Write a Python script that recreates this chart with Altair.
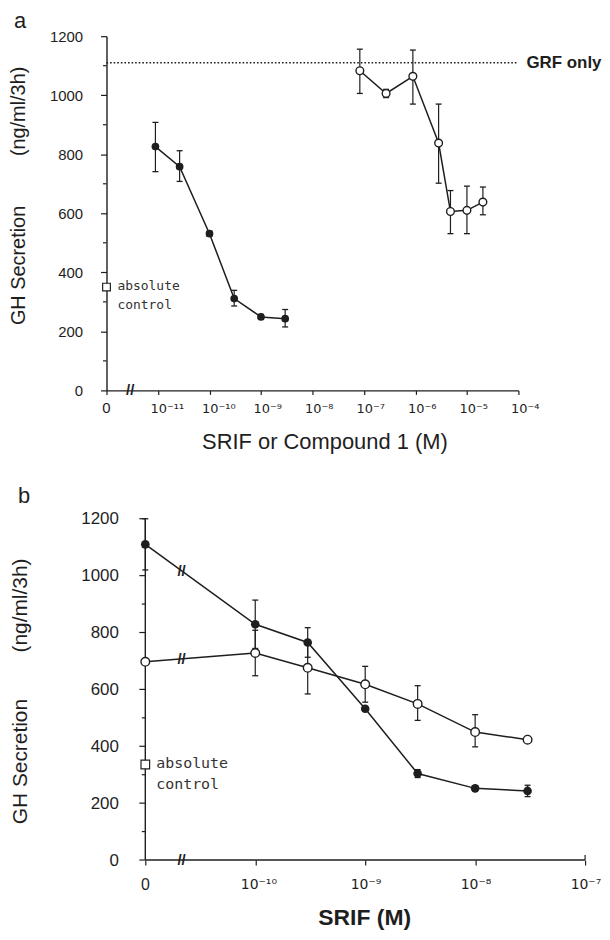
import altair as alt
import pandas as pd
import numpy as np

FONT = "Liberation Sans"
SUPFONT = "DejaVu Sans"
MONO = "DejaVu Sans Mono"
INK = "#1e1e1e"
NB = "\u00a0"

# ---------------- data: panel a ----------------
A_X_TICKS = [-12, -11, -10, -9, -8, -7, -6, -5, -4]
A_X_LABELS = ["0", "10⁻¹¹", "10⁻¹⁰", "10⁻⁹", "10⁻⁸", "10⁻⁷", "10⁻⁶", "10⁻⁵", "10⁻⁴"]
Y_TICKS = [0, 200, 400, 600, 800, 1000, 1200]
Y_MINOR = [100, 300, 500, 700, 900, 1100]

A_SRIF_X = [-11.05, -10.58, -10.0, -9.52, -9.0, -8.53]
A_SRIF_Y = [826, 758, 531, 311, 249, 243]
A_SRIF_LO = [741, 708, 523, 286, 241, 215]
A_SRIF_HI = [908, 812, 539, 339, 257, 274]

A_CMP_X = [-7.08, -6.57, -6.05, -5.55, -5.32, -5.0, -4.69]
A_CMP_Y = [1083, 1006, 1064, 838, 606, 610, 638]
A_CMP_LO = [1006, 992, 970, 702, 531, 531, 595]
A_CMP_HI = [1156, 1020, 1153, 970, 677, 692, 689]

A_GRF_ONLY = 1110
A_CONTROL = 350
A_BREAK_X = -11.54

# ---------------- data: panel b ----------------
B_X_TICKS = [-11, -10, -9, -8, -7]
B_X_LABELS = ["0", "10⁻¹⁰", "10⁻⁹", "10⁻⁸", "10⁻⁷"]
B_X = [-11, -10, -9.523, -9, -8.523, -8, -7.523]
B_CLOSED_Y = [1110, 829, 765, 532, 304, 252, 243]
B_CLOSED_LO = [1020, 744, 713, 524, 290, 244, 223]
B_CLOSED_HI = [1200, 914, 817, 540, 318, 260, 263]
B_OPEN_Y = [697, 728, 676, 618, 549, 450, 423]
B_OPEN_LO = [697, 648, 584, 555, 491, 398, 415]
B_OPEN_HI = [697, 808, 768, 681, 613, 511, 431]
B_CONTROL = 336
B_BREAK_X = -10.67

# layout (pixels)
A_W, A_H = 414, 356
B_DEC = 110.5            # pixels per decade in panel b
B_SHIFT = 39             # panel b's axis sits this far right of panel a's
B_W = int(round((B_X_TICKS[-1] - B_X_TICKS[0]) * B_DEC)) + B_SHIFT
B_H = 343
B_XMIN = B_X_TICKS[0] - B_SHIFT / B_DEC


def label_expr(ticks, labels):
    # the "0" label is drawn separately (centred on its tick)
    e = "''"
    for t, l in zip(ticks, labels):
        if l == "0":
            continue
        e = f"datum.value === {t} ? '{l}' : ({e})"
    return e


def err_frames(xs, lo, hi):
    bars = pd.DataFrame({"x": xs, "y": lo, "y2": hi})
    caps = pd.DataFrame({"x": list(xs) * 2, "y": list(lo) + list(hi)})
    return bars, caps


def panel(xdom, axis_x0, ydom, width, height, xaxis, yaxis, closed, opened, control,
          break_x, letter, letter_pos, msize, mono_size, mono_lh, zero_font, zero_dy,
          extra=None, line_breaks=None, draw_domain=False, x_end=None):
    X = alt.X("x:Q", scale=alt.Scale(domain=xdom, nice=False, zero=False), axis=xaxis)
    Y = alt.Y("y:Q", scale=alt.Scale(domain=ydom, nice=False, zero=False), axis=yaxis)
    layers = []

    if draw_domain:
        dom = pd.DataFrame({"x": [axis_x0], "x2": [x_end], "y": [ydom[0]], "y2": [ydom[1]]})
        layers.append(alt.Chart(dom).mark_rule(color=INK, strokeWidth=1.4).encode(x=X, x2="x2:Q", y=Y))
        layers.append(alt.Chart(dom).mark_rule(color=INK, strokeWidth=1.4).encode(x=X, y=Y, y2="y2:Q"))
        layers.append(alt.Chart(dom).mark_rule(color=INK, strokeWidth=1.2, yOffset=-5, y2Offset=0)
                      .encode(x=alt.X("x2:Q", scale=alt.Scale(domain=xdom, nice=False, zero=False), axis=xaxis),
                              y=Y, y2="y:Q"))
        major = pd.DataFrame({"x": [axis_x0] * len(Y_TICKS), "y": Y_TICKS})
        layers.append(alt.Chart(major).mark_rule(color=INK, strokeWidth=1.2, xOffset=-6, x2Offset=0)
                      .encode(x=X, x2="x:Q", y=Y))

    minor = pd.DataFrame({"x": [axis_x0] * len(Y_MINOR), "y": Y_MINOR})
    layers.append(alt.Chart(minor).mark_rule(color=INK, strokeWidth=1.2, xOffset=-3.5, x2Offset=0)
                  .encode(x=X, x2="x:Q", y=Y))

    if extra is not None:
        layers.extend(extra(X, Y))

    for (xs, ys, lo, hi, filled) in (closed, opened):
        bars, caps = err_frames(xs, lo, hi)
        layers.append(alt.Chart(bars).mark_rule(color=INK, strokeWidth=1.2).encode(x=X, y=Y, y2="y2:Q"))
        layers.append(alt.Chart(caps).mark_rule(color=INK, strokeWidth=1.3, xOffset=-3, x2Offset=3)
                      .encode(x=X, x2="x:Q", y=Y))
        pts = pd.DataFrame({"x": xs, "y": ys})
        layers.append(alt.Chart(pts).mark_line(color=INK, strokeWidth=1.5).encode(x=X, y=Y))
    for (xs, ys, lo, hi, filled) in (closed, opened):
        pts = pd.DataFrame({"x": xs, "y": ys})
        if filled:
            m = alt.Chart(pts).mark_point(shape="circle", filled=True, color=INK, size=msize, opacity=1)
        else:
            m = alt.Chart(pts).mark_point(shape="circle", fill="white", fillOpacity=1, stroke=INK,
                                          strokeWidth=1.4, size=msize, opacity=1)
        layers.append(m.encode(x=X, y=Y))

    ctrl = pd.DataFrame({"x": [axis_x0], "y": [control], "t": ["absolute\ncontrol"]})
    layers.append(alt.Chart(ctrl).mark_point(shape="square", fill="white", fillOpacity=1, stroke=INK,
                                             strokeWidth=1.2, size=msize, opacity=1).encode(x=X, y=Y))
    layers.append(alt.Chart(ctrl).mark_text(font=MONO, fontSize=mono_size, lineHeight=mono_lh,
                                            lineBreak="\n", align="left", baseline="top", dx=11,
                                            dy=-mono_size * 0.55, color="#333333")
                  .encode(x=X, y=Y, text="t:N"))

    # "0" tick label of the x axis, centred on its tick
    zero = pd.DataFrame({"x": [axis_x0], "y": [ydom[0]], "t": ["0"]})
    layers.append(alt.Chart(zero).mark_text(font=FONT, fontSize=zero_font, color=INK, align="center",
                                            baseline="top", dy=zero_dy)
                  .encode(x=X, y=Y, text="t:N"))

    brk = pd.DataFrame({"x": [break_x], "y": [ydom[0]], "t": ["//"]})
    if line_breaks is not None:
        brk = pd.concat([brk, line_breaks], ignore_index=True)
    layers.append(alt.Chart(brk).mark_text(font=FONT, fontSize=15, color=INK, baseline="middle",
                                           align="center", fontWeight="bold")
                  .encode(x=X, y=Y, text="t:N"))

    lt = pd.DataFrame({"t": [letter]})
    layers.append(alt.Chart(lt).mark_text(font=FONT, fontSize=22, color=INK, align="left",
                                          baseline="alphabetic")
                  .encode(x=alt.value(letter_pos[0]), y=alt.value(letter_pos[1]), text="t:N"))

    return alt.layer(*layers).properties(width=width, height=height)


# ---------------- panel a ----------------
axis_xa = alt.Axis(values=A_X_TICKS, labelExpr=label_expr(A_X_TICKS, A_X_LABELS),
                   title="SRIF or Compound 1 (M)", titleFont=FONT, titleFontSize=22,
                   titleFontWeight="normal", titleColor=INK, titlePadding=16, titleX=219,
                   labelFont=SUPFONT, labelFontSize=13, labelColor=INK, labelAlign="left", labelOffset=-8,
                   labelPadding=8, labelFlush=False, labelOverlap=False, tickSize=4, tickColor=INK,
                   tickWidth=1.2, domainColor=INK, domainWidth=1.4, grid=False)
axis_ya = alt.Axis(values=Y_TICKS, format="d",
                   title="GH Secretion" + NB * 9 + "(ng/ml/3h)", titleFont=FONT,
                   titleFontSize=20, titleFontWeight="normal", titleColor=INK, titlePadding=21,
                   titleY=160, labelFont=FONT, labelFontSize=15, labelColor=INK, labelPadding=18,
                   tickSize=6, tickColor=INK, tickWidth=1.2, domainColor=INK, domainWidth=1.4,
                   grid=False, labelOverlap=False)


def extra_a(X, Y):
    grf = pd.DataFrame({"x": [A_X_TICKS[0]], "x2": [A_X_TICKS[-1]], "y": [A_GRF_ONLY],
                        "t": ["GRF only"]})
    return [
        alt.Chart(grf).mark_rule(color=INK, strokeWidth=1.6, strokeDash=[1.6, 2.0])
        .encode(x=X, x2="x2:Q", y=Y),
        alt.Chart(grf).mark_text(font=FONT, fontSize=17, color=INK, align="left", baseline="middle",
                                 dx=8, fontWeight="bold")
        .encode(x=alt.X("x2:Q", scale=alt.Scale(domain=[-12, -4], nice=False, zero=False), axis=axis_xa),
                y=Y, text="t:N"),
    ]


panel_a = panel([A_X_TICKS[0], A_X_TICKS[-1]], A_X_TICKS[0], [0, 1200], A_W, A_H, axis_xa, axis_ya,
                (A_SRIF_X, A_SRIF_Y, A_SRIF_LO, A_SRIF_HI, True),
                (A_CMP_X, A_CMP_Y, A_CMP_LO, A_CMP_HI, False),
                A_CONTROL, A_BREAK_X, "a", (-93, -8), 60, 13, 19, 15, 11, extra=extra_a)

# ---------------- panel b ----------------
axis_xb = alt.Axis(values=B_X_TICKS, labelExpr=label_expr(B_X_TICKS, B_X_LABELS),
                   title="SRIF (M)", titleFont=FONT, titleFontSize=23, titleFontWeight="bold",
                   titleColor=INK, titlePadding=15, titleX=259,
                   labelFont=SUPFONT, labelFontSize=14, labelColor=INK, labelAlign="left", labelOffset=-15,
                   labelPadding=13, labelFlush=False, labelOverlap=False, tickSize=5, tickColor=INK,
                   tickWidth=1.2, domain=False, grid=False)
axis_yb = alt.Axis(values=Y_TICKS, format="d", offset=-B_SHIFT, domain=False, ticks=False,
                   title="GH Secretion" + NB * 8 + "(ng/ml/3h)", titleFont=FONT,
                   titleFontSize=21, titleFontWeight="normal", titleColor=INK, titlePadding=51,
                   titleY=173, labelFont=FONT, labelFontSize=17, labelColor=INK, labelPadding=27,
                   grid=False, labelOverlap=False)

line_breaks_b = pd.DataFrame({
    "x": [B_BREAK_X, B_BREAK_X],
    "y": [float(np.interp(B_BREAK_X, B_X[:2], B_CLOSED_Y[:2])),
          float(np.interp(B_BREAK_X, B_X[:2], B_OPEN_Y[:2]))],
    "t": ["//", "//"],
})

panel_b = panel([B_XMIN, B_X_TICKS[-1]], B_X_TICKS[0], [0, 1200], B_W, B_H, axis_xb, axis_yb,
                (B_X, B_CLOSED_Y, B_CLOSED_LO, B_CLOSED_HI, True),
                (B_X, B_OPEN_Y, B_OPEN_LO, B_OPEN_HI, False),
                B_CONTROL, B_BREAK_X, "b", (-89, -16), 75, 15, 21, 16, 17,
                line_breaks=line_breaks_b, draw_domain=True, x_end=B_X_TICKS[-1])

chart = (
    alt.vconcat(panel_a, panel_b, spacing=33)
    .properties(padding={"top": 0, "left": 0, "right": 0, "bottom": 0}, background="white")
    .configure_view(strokeWidth=0)
)

chart.save("out.html", embed_options={"renderer": "svg", "actions": False})
